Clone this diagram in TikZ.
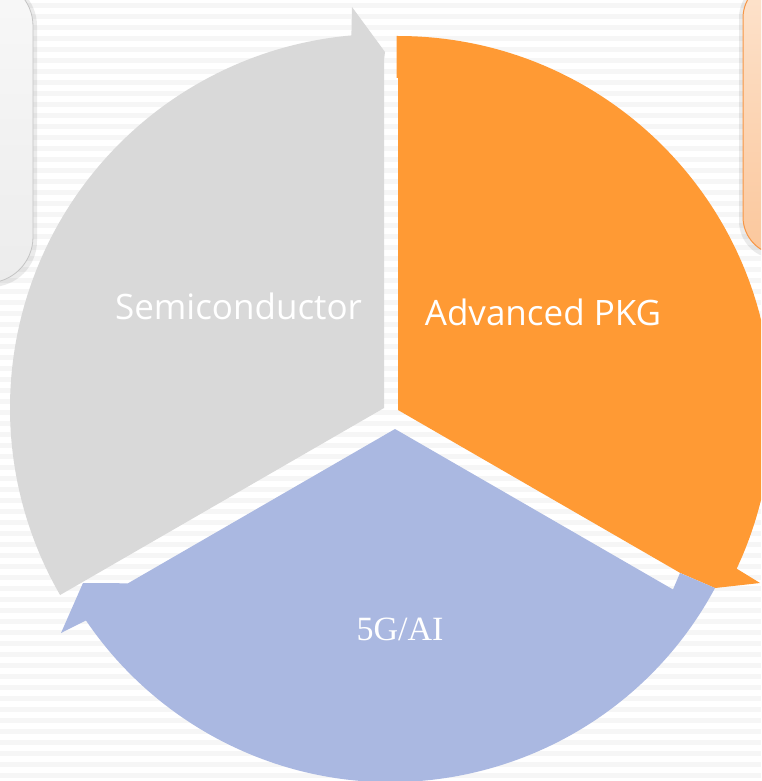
\documentclass[tikz,border=0pt]{standalone}
\usepackage{fontspec}
\setmainfont{Open Sans}
\newfontfamily\labelserif{Liberation Serif}

\definecolor{stripe}{RGB}{246,246,246}
\definecolor{segGray}{RGB}{217,217,217}
\definecolor{segOrange}{RGB}{255,154,52}
\definecolor{segBlue}{RGB}{170,184,225}
\definecolor{panelTop}{RGB}{248,248,248}
\definecolor{panelBot}{RGB}{236,236,236}
\definecolor{panelEdge}{RGB}{196,196,196}
\definecolor{peachTop}{RGB}{253,227,205}
\definecolor{peachBot}{RGB}{251,199,156}
\definecolor{peachEdge}{RGB}{247,150,70}

\tikzset{
  seglabel/.style={text=white, inner sep=0pt, anchor=base,
    font=\fontsize{35}{42}\selectfont},
  seglabelserif/.style={text=white, inner sep=0pt, anchor=base,
    font=\labelserif\fontsize{34}{40}\selectfont},
  panelshadow/.style={fill=black, opacity=0.08},
}

\begin{document}
\begin{tikzpicture}[x=1pt,y=1pt]
  \useasboundingbox (0,0) rectangle (761,-781);
  \clip (0,0) rectangle (761,-781);

  % striped backdrop
  \fill[white] (0,0) rectangle (761,-781);
  \foreach \i in {0,...,71}
    \fill[stripe] (0,{-\i*11-3}) rectangle (761,{-\i*11-8});

  % side panels peeking in at the top corners
  \fill[panelshadow, rounded corners=46] (-200,20) rectangle (37,-287);
  \shade[top color=panelTop, bottom color=panelBot, rounded corners=46,
         draw=panelEdge, line width=0.8]
    (-200,20) rectangle (33,-283);
  \fill[panelshadow, rounded corners=38] (739,20) rectangle (960,-259);
  \shade[top color=peachTop, bottom color=peachBot, rounded corners=38,
         draw=peachEdge, line width=1]
    (743,20) rectangle (960,-255);

  % grey segment, arrow head at the top
  \fill[segGray] (384,-408) -- (60.1,-595)
    arc[start angle=210, end angle=95, radius=374]
    -- (352,-7) -- (385,-52) -- (384,-60) -- cycle;

  % orange segment, arrow head at the lower right
  \fill[segOrange] (398,-410) -- (398,-78) -- (396.5,-78) -- (396.5,-36)
    -- (398,-36) arc[start angle=90, end angle=-25.1, radius=374]
    -- (760,-583) -- (715,-588) -- (680,-572.8) -- cycle;

  % blue segment, arrow head at the lower left
  \fill[segBlue] (395,-429) -- (673,-589.5) -- (680,-573) -- (715,-588)
    arc[start angle=-28.2, end angle=-145.9, radius=368]
    -- (61,-633) -- (83,-583) -- (128,-583.3) -- cycle;

  % segment labels
  \node[seglabel] (semi) at (238.5,-319) {Semiconductor};
  \node[seglabel] (pkg) at (543,-325) {Advanced PKG};
  \node[seglabelserif] (ai) at (400,-640) {5G/AI};
\end{tikzpicture}
\end{document}
